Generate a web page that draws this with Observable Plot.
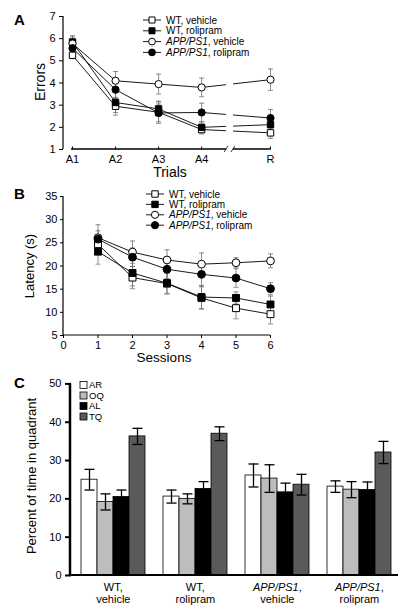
<!DOCTYPE html>
<html><head><meta charset="utf-8">
<script src="https://cdn.jsdelivr.net/npm/d3@7"></script>
<script src="https://cdn.jsdelivr.net/npm/@observablehq/plot@0.6"></script>
<style>
body{margin:0;background:#fff;}
#fig{position:relative;width:402px;height:610px;overflow:hidden;background:#fff;font-family:'Liberation Sans',Arial,sans-serif;}
#fig svg{position:absolute;left:0;}
#pc [aria-label="y-axis tick"]{stroke-width:2px;}
</style></head><body><div id="fig"></div>
<script>
// ---------- DATA ----------
const seriesNames = ["WT, vehicle", "WT, rolipram", "APP/PS1, vehicle", "APP/PS1, rolipram"];
const seriesSymbols = ["square", "square", "circle", "circle"];
const seriesFills = ["white", "black", "white", "black"];

// Panel A: errors per trial
const trialLabels = ["A1", "A2", "A3", "A4", "R"];
const trialPos = [1, 2, 3, 4, 5.6];
const errWTveh = [5.25, 2.95, 2.68, 1.90, 1.75];
const errWTvehSE = [0.15, 0.40, 0.50, 0.20, 0.25];
const errWTrol = [5.85, 3.12, 2.83, 2.00, 2.12];
const errWTrolSE = [0.28, 0.45, 0.32, 0.25, 0.20];
const errAPPveh = [5.78, 4.10, 3.95, 3.80, 4.15];
const errAPPvehSE = [0.30, 0.42, 0.45, 0.42, 0.48];
const errAPProl = [5.57, 3.70, 2.65, 2.67, 2.42];
const errAPProlSE = [0.25, 0.40, 0.40, 0.42, 0.38];

// Panel B: latency per session
const sessions = [1, 2, 3, 4, 5, 6];
const latWTveh = [24.7, 17.5, 16.2, 13.1, 10.9, 9.6];
const latWTvehSE = [2.0, 2.4, 2.2, 2.4, 2.3, 2.1];
const latWTrol = [23.1, 18.5, 16.3, 13.3, 13.1, 11.7];
const latWTrolSE = [2.7, 2.8, 2.3, 2.5, 1.3, 1.8];
const latAPPveh = [26.1, 23.0, 21.3, 20.4, 20.7, 21.1];
const latAPPvehSE = [2.8, 2.4, 2.2, 2.4, 1.1, 1.5];
const latAPProl = [25.8, 21.9, 19.3, 18.2, 17.4, 15.1];
const latAPProlSE = [1.8, 2.0, 2.0, 2.5, 2.0, 1.3];

// Panel C: percent of time in quadrant
const groups = ["WT, vehicle", "WT, rolipram", "APP/PS1, vehicle", "APP/PS1, rolipram"];
const quadrants = ["AR", "OQ", "AL", "TQ"];
const quadFills = ["white", "#bdbdbd", "black", "#5a5a5a"];
const pctAR = [25.0, 20.6, 26.1, 23.2];
const pctARSE = [2.7, 1.7, 3.0, 1.5];
const pctOQ = [19.2, 20.0, 25.3, 22.4];
const pctOQSE = [2.1, 1.3, 3.6, 2.1];
const pctAL = [20.5, 22.6, 21.7, 22.3];
const pctALSE = [1.8, 1.9, 2.4, 2.1];
const pctTQ = [36.3, 37.0, 23.7, 32.1];
const pctTQSE = [2.1, 1.8, 2.7, 2.9];

// ---------- helpers ----------
const FONT = "'Liberation Sans', Arial, sans-serif";
const fig = document.getElementById("fig");

function tidy(xs, means, ses) {
  const rows = [];
  means.forEach((m, s) => m.forEach((v, i) => rows.push({series: seriesNames[s], s, x: xs[i], y: v, se: ses[s][i]})));
  return rows;
}
const capSym = {draw(ctx, size) { const r = Math.sqrt(size / Math.PI); ctx.moveTo(-r, 0); ctx.lineTo(r, 0); }};
const vtickSym = {draw(ctx, size) { const r = Math.sqrt(size / Math.PI); ctx.moveTo(0, 0); ctx.lineTo(0, -r); }};

function lineMarks(rows, opts) {
  const marks = [
    Plot.line(rows, {x: "x", y: "y", z: "series", stroke: "black", strokeWidth: 0.9}),
    Plot.ruleX(rows, {x: "x", y1: d => d.y - d.se, y2: d => d.y + d.se, stroke: "#707070", strokeWidth: 0.8}),
    Plot.dot(rows, {x: "x", y: d => d.y + d.se, symbol: capSym, r: opts.cap, fill: "none", stroke: "#707070", strokeWidth: 0.8}),
    Plot.dot(rows, {x: "x", y: d => d.y - d.se, symbol: capSym, r: opts.cap, fill: "none", stroke: "#707070", strokeWidth: 0.8})
  ];
  seriesNames.forEach((n, s) => {
    marks.push(Plot.dot(rows.filter(d => d.s === s), {x: "x", y: "y", symbol: seriesSymbols[s], fill: seriesFills[s], stroke: "black", strokeWidth: 1, r: opts.r}));
  });
  return marks;
}

function richText(sel, label) {
  const m = label.match(/^(APP\/PS1)(.*)$/);
  if (m) {
    sel.append("tspan").attr("font-style", "italic").text(m[1]);
    sel.append("tspan").text(m[2]);
  } else sel.text(label);
}

function lineLegend(svg, x0, y0, dy, r, fontSize) {
  const g = svg.append("g").attr("text-anchor", "start");
  seriesNames.forEach((n, s) => {
    const y = y0 + s * dy;
    g.append("line").attr("x1", x0 - 9).attr("x2", x0 + 9).attr("y1", y).attr("y2", y).attr("stroke", "black").attr("stroke-width", 0.9);
    const sym = seriesSymbols[s] === "square" ? d3.symbolSquare : d3.symbolCircle;
    g.append("path").attr("d", d3.symbol(sym, Math.PI * r * r)()).attr("transform", `translate(${x0},${y})`)
      .attr("fill", seriesFills[s]).attr("stroke", "black").attr("stroke-width", 1);
    const t = g.append("text").attr("x", x0 + 14).attr("y", y + fontSize * 0.36).attr("text-anchor", "start")
      .attr("font-size", fontSize).attr("font-family", FONT);
    richText(t, n);
  });
}

function addText(svg, txt, x, y, size, opts = {}) {
  const t = svg.append("text").attr("x", x).attr("y", y).attr("font-size", size).attr("font-family", FONT)
    .attr("text-anchor", opts.anchor || "middle").attr("fill", "black");
  if (opts.bold) t.attr("font-weight", "bold");
  if (opts.rotate) t.attr("transform", `rotate(-90,${x},${y})`);
  t.text(txt);
  return t;
}

const baseStyle = {fontFamily: FONT, fontSize: "11px", background: "white", color: "black"};
const intFmt = d => String(d);

// ---------- Panel A ----------
const rowsA = tidy(trialPos, [errWTveh, errWTrol, errAPPveh, errAPProl], [errWTvehSE, errWTrolSE, errAPPvehSE, errAPProlSE]);
const plotA = Plot.plot({
  width: 402, height: 180, marginTop: 16, marginBottom: 31, marginLeft: 63, marginRight: 132,
  style: baseStyle,
  x: {domain: [1, 5.6], insetLeft: 9, ticks: trialPos, tickFormat: d => trialLabels[trialPos.indexOf(d)], tickSize: 0, tickPadding: 6, label: null},
  y: {domain: [1, 7], ticks: [1, 2, 3, 4, 5, 6, 7], tickFormat: intFmt, tickSize: 4, tickPadding: 4, label: null},
  marks: [
    ...lineMarks(rowsA, {r: 3.6, cap: 2.5}),
    Plot.dot(trialPos, {x: d => d, y: 1, symbol: vtickSym, r: 3, fill: "none", stroke: "black", strokeWidth: 1})
  ]
});
plotA.style.top = "0px";
fig.appendChild(plotA);
{
  const svg = d3.select(plotA);
  const xs = plotA.scale("x"), ys = plotA.scale("y");
  const X = v => xs.apply(v), Y = v => ys.apply(v);
  const breakLo = 4.58, breakHi = 4.74;
  svg.append("rect").attr("x", X(breakLo)).attr("width", X(breakHi) - X(breakLo)).attr("y", Y(4.6)).attr("height", Y(1) - Y(4.6) + 4).attr("fill", "white");
  svg.append("line").attr("x1", 63).attr("x2", 63).attr("y1", Y(1)).attr("y2", Y(7)).attr("stroke", "black").attr("stroke-width", 1.2);
  svg.append("line").attr("x1", X(1) - 1).attr("x2", X(breakLo)).attr("y1", Y(1)).attr("y2", Y(1)).attr("stroke", "black").attr("stroke-width", 1.5);
  svg.append("line").attr("x1", X(breakHi)).attr("x2", X(5.6)).attr("y1", Y(1)).attr("y2", Y(1)).attr("stroke", "black").attr("stroke-width", 1.5);
  [breakLo, breakHi].forEach(b => svg.append("line").attr("x1", X(b) - 2).attr("x2", X(b) + 2).attr("y1", Y(1) + 3).attr("y2", Y(1) - 3).attr("stroke", "black").attr("stroke-width", 0.8));
  lineLegend(svg, 152, 20, 10.8, 3.4, 10);
  addText(svg, "Errors", 45, 82, 14, {rotate: true});
  addText(svg, "Trials", 170, 177, 14);
  addText(svg, "A", 14, 25, 15, {bold: true, anchor: "start"});
}

// ---------- Panel B ----------
const rowsB = tidy(sessions, [latWTveh, latWTrol, latAPPveh, latAPProl], [latWTvehSE, latWTrolSE, latAPPvehSE, latAPProlSE]);
const plotB = Plot.plot({
  width: 402, height: 190, marginTop: 16, marginBottom: 35, marginLeft: 63, marginRight: 132,
  style: baseStyle,
  x: {domain: [0, 6], ticks: [0, 1, 2, 3, 4, 5, 6], tickFormat: intFmt, tickSize: 3, tickPadding: 3, label: null},
  y: {domain: [5, 35], ticks: [5, 10, 15, 20, 25, 30, 35], tickFormat: intFmt, tickSize: 3, tickPadding: 3, label: null},
  marks: lineMarks(rowsB, {r: 3.9, cap: 2.5})
});
plotB.style.top = "180px";
fig.appendChild(plotB);
{
  const svg = d3.select(plotB);
  const xs = plotB.scale("x"), ys = plotB.scale("y");
  const X = v => xs.apply(v), Y = v => ys.apply(v);
  svg.append("line").attr("x1", X(0)).attr("x2", X(0)).attr("y1", Y(5)).attr("y2", Y(35)).attr("stroke", "black").attr("stroke-width", 1.2);
  svg.append("line").attr("x1", X(0)).attr("x2", X(6)).attr("y1", Y(5)).attr("y2", Y(5)).attr("stroke", "black").attr("stroke-width", 1.2);
  lineLegend(svg, 155, 14, 10.4, 3.6, 10);
  addText(svg, "Latency (s)", 34, 86, 13, {rotate: true});
  addText(svg, "Sessions", 164, 182, 13.5);
  addText(svg, "B", 14, 19, 15, {bold: true, anchor: "start"});
}

// ---------- Panel C ----------
const rowsC = [];
const pctMeans = [pctAR, pctOQ, pctAL, pctTQ], pctSEs = [pctARSE, pctOQSE, pctALSE, pctTQSE];
groups.forEach((g, gi) => quadrants.forEach((q, qi) => rowsC.push({group: g, quadrant: q, value: pctMeans[qi][gi], se: pctSEs[qi][gi]})));
const plotC = Plot.plot({
  width: 402, height: 240, marginTop: 13.4, marginBottom: 35, marginLeft: 70, marginRight: 9.3,
  style: baseStyle,
  facet: {data: rowsC, x: "group"},
  fx: {domain: groups, paddingInner: 0.0885, paddingOuter: 0, axis: null, label: null},
  x: {domain: quadrants, padding: 0, insetLeft: 8.7, axis: null, label: null},
  y: {domain: [0, 50], ticks: [0, 10, 20, 30, 40, 50], tickFormat: intFmt, tickSize: 6, tickPadding: 4, label: null},
  color: {domain: quadrants, range: quadFills},
  marks: [
    Plot.barY(rowsC, {x: "quadrant", y: "value", fill: "quadrant", stroke: "black", strokeWidth: 0.8}),
    Plot.ruleX(rowsC, {x: "quadrant", y1: d => d.value - d.se, y2: d => d.value + d.se, stroke: "black", strokeWidth: 1.3}),
    Plot.dot(rowsC, {x: "quadrant", y: d => d.value + d.se, symbol: capSym, r: 5, fill: "none", stroke: "black", strokeWidth: 1.3}),
    Plot.dot(rowsC, {x: "quadrant", y: d => d.value - d.se, symbol: capSym, r: 5, fill: "none", stroke: "black", strokeWidth: 1.3})
  ]
});
plotC.id = "pc";
plotC.style.top = "370px";
fig.appendChild(plotC);
{
  const svg = d3.select(plotC);
  const ys = plotC.scale("y"), fxs = plotC.scale("fx"), xs = plotC.scale("x");
  const Y = v => ys.apply(v);
  svg.append("line").attr("x1", 70).attr("x2", 70).attr("y1", Y(0)).attr("y2", Y(50)).attr("stroke", "black").attr("stroke-width", 2.5);
  svg.append("line").attr("x1", 70).attr("x2", 398).attr("y1", Y(0)).attr("y2", Y(0)).attr("stroke", "black").attr("stroke-width", 2);
  const xr = xs.range;
  const fx0 = fxs.apply(groups[0]);
  groups.forEach(g => {
    const cx = fxs.apply(g) - fx0 + (xr[0] + xr[1]) / 2 + 1.5;
    const parts = g.split(", ");
    const t1 = svg.append("text").attr("x", cx).attr("y", Y(0) + 16).attr("text-anchor", "middle").attr("font-size", 11).attr("font-family", FONT);
    richText(t1, parts[0] + ",");
    svg.append("text").attr("x", cx).attr("y", Y(0) + 28).attr("text-anchor", "middle").attr("font-size", 11).attr("font-family", FONT).text(parts[1]);
  });
  const lg = svg.append("g").attr("text-anchor", "start");
  quadrants.forEach((q, i) => {
    const y = 15 + i * 10.5;
    lg.append("rect").attr("x", 80).attr("y", y - 3.5).attr("width", 7).attr("height", 7).attr("fill", quadFills[i]).attr("stroke", "black").attr("stroke-width", 0.8);
    lg.append("text").attr("x", 89).attr("y", y + 3.4).attr("text-anchor", "start").attr("font-size", 9.5).attr("font-family", FONT).text(q);
  });
  addText(svg, "Percent of time in quadrant", 36, 106, 13, {rotate: true});
  addText(svg, "C", 14, 18, 15, {bold: true, anchor: "start"});
}
</script></body></html>
